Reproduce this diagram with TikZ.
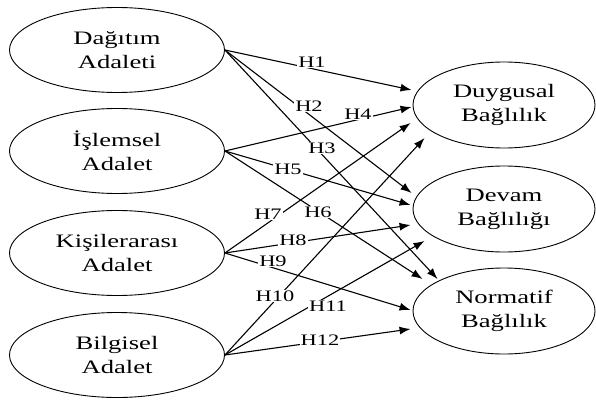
\documentclass[tikz,border=0pt]{standalone}
\usepackage{fontspec}
\setmainfont[FakeStretch=1.4]{Liberation Serif}
\usetikzlibrary{shapes.geometric,arrows.meta,calc}

\tikzset{
konu/.style={
draw,
ellipse,
line width=0.9pt,
inner sep=0pt,
align=center,
minimum width=215pt,
minimum height=85pt,
font=\fontsize{19}{24}\selectfont
},
sonuc/.style={
konu,
minimum width=182pt,
minimum height=86pt
},
ok/.style={line width=1.1pt, -{Latex[length=11pt,width=8pt]}},
etiket/.style={fill=white, inner sep=1pt, font=\fontsize{16}{18}\selectfont}
}

\begin{document}
\begin{tikzpicture}[x=1pt,y=-1pt]
\useasboundingbox (0,0) rectangle (596,401);

\node[konu] (Da) at (117,50)
{Dağıtım\\Adaleti};

\node[konu] (Is) at (117,151)
{İşlemsel\\Adalet};

\node[konu] (Ki) at (117,253)
{Kişilerarası\\Adalet};

\node[konu] (Bi) at (117,355)
{Bilgisel\\Adalet};

\node[sonuc] (Du) at (504,105)
{Duygusal\\Bağlılık};

\node[sonuc] (De) at (504,209)
{Devam\\Bağlılığı};

\node[sonuc] (No) at (504,311)
{Normatif\\Bağlılık};

\draw[ok] (Da.east) -- ($(Du.west)+(-1,-15)$);
\draw[ok] (Da.east) -- ($(De.west)+(-1,-16)$);
\draw[ok] (Da.east) -- ($(No.west)+(25,-32)$);

\draw[ok] (Is.east) -- ($(Du.west)+(-1,2)$);
\draw[ok] (Is.east) -- ($(De.west)+(-2,-4)$);
\draw[ok] (Is.east) -- ($(No.west)+(10,-32)$);

\draw[ok] (Ki.east) -- ($(Du.west)+(-2,18)$);
\draw[ok] (Ki.east) -- ($(De.west)+(-2,16)$);
\draw[ok] (Ki.east) -- ($(No.west)+(-2,-1)$);

\draw[ok] (Bi.east) -- ($(Du.west)+(12,33)$);
\draw[ok] (Bi.east) -- ($(De.west)+(12,32)$);
\draw[ok] (Bi.east) -- ($(No.west)+(-2,18)$);

\node[etiket] (H1) at (312,62) {H1};
\node[etiket] (H2) at (309,106) {H2};
\node[etiket] (H3) at (322,148) {H3};
\node[etiket] (H4) at (358,114) {H4};
\node[etiket] (H5) at (288,169) {H5};
\node[etiket] (H6) at (318,212) {H6};
\node[etiket] (H7) at (268,214) {H7};
\node[etiket] (H8) at (293,240) {H8};
\node[etiket] (H9) at (273,261) {H9};
\node[etiket] (H10) at (275,296) {H10};
\node[etiket] (H11) at (328,306) {H11};
\node[etiket] (H12) at (320,340) {H12};

\end{tikzpicture}
\end{document}
